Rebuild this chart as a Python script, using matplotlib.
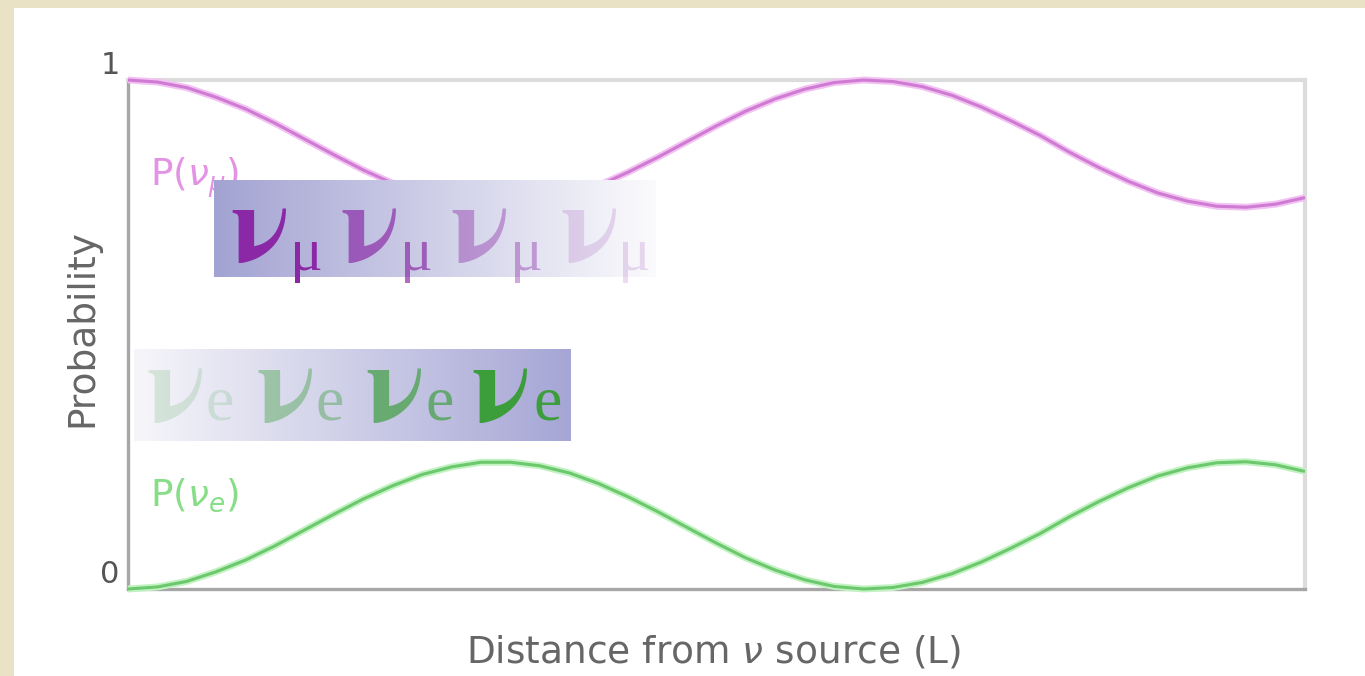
import numpy as np
import matplotlib
matplotlib.use("Agg")
import matplotlib.pyplot as plt
from matplotlib.patches import Rectangle
from matplotlib.colors import to_rgb

# distance along the beam (arbitrary units) and the two flavour probabilities
distance = [0.000, 0.025, 0.050, 0.075, 0.100, 0.125, 0.150, 0.175, 0.200, 0.225,
            0.250, 0.275, 0.300, 0.325, 0.350, 0.375, 0.400, 0.425, 0.450, 0.475,
            0.500, 0.525, 0.550, 0.575, 0.600, 0.625, 0.650, 0.675, 0.700, 0.725,
            0.750, 0.775, 0.800, 0.825, 0.850, 0.875, 0.900, 0.925, 0.950, 0.975,
            1.000]
p_e = [0.000, 0.004, 0.015, 0.034, 0.057, 0.085, 0.116, 0.147, 0.177, 0.203,
       0.225, 0.240, 0.249, 0.249, 0.242, 0.228, 0.207, 0.181, 0.152, 0.121,
       0.090, 0.061, 0.037, 0.018, 0.005, 0.000, 0.003, 0.013, 0.030, 0.053,
       0.080, 0.109, 0.142, 0.172, 0.199, 0.222, 0.238, 0.248, 0.250, 0.244,
       0.231]
p_mu = [1.000, 0.996, 0.985, 0.966, 0.943, 0.915, 0.884, 0.853, 0.823, 0.797,
        0.775, 0.760, 0.751, 0.751, 0.758, 0.772, 0.793, 0.819, 0.848, 0.879,
        0.910, 0.939, 0.963, 0.982, 0.995, 1.000, 0.997, 0.987, 0.970, 0.947,
        0.920, 0.891, 0.858, 0.828, 0.801, 0.778, 0.762, 0.752, 0.750, 0.756,
        0.769]
y_ticks = [0, 1]
y_tick_labels = ["0", "1"]

# fading flavour strips: opacity of each nu symbol, left to right
mu_alpha = [1.0, 0.68, 0.40, 0.16]
e_alpha = [0.16, 0.40, 0.68, 1.0]

W, H = 1365, 676
fig = plt.figure(figsize=(W / 100, H / 100), dpi=100, facecolor="#e9e2c5")

# white slide area, behind the axes
fig.patches.append(Rectangle((14 / W, 0), 1 - 14 / W, (H - 8) / H,
                             transform=fig.transFigure, facecolor="white",
                             edgecolor="none", zorder=-1))

ax = fig.add_axes([128 / W, 1 - 589 / H, (1305 - 128) / W, (589 - 80) / H])
ax.set_facecolor("white")

ax.plot(distance, p_mu, color="#f2c2f2", lw=5.0, solid_capstyle="butt", clip_on=False, zorder=3)
ax.plot(distance, p_mu, color="#cf7ad3", lw=2.2, solid_capstyle="butt", clip_on=False, zorder=4)
ax.plot(distance, p_e, color="#c2f2c2", lw=5.0, solid_capstyle="butt", clip_on=False, zorder=3)
ax.plot(distance, p_e, color="#6cc86c", lw=2.2, solid_capstyle="butt", clip_on=False, zorder=4)

ax.set_xlim(0, 1)
ax.set_ylim(0, 1)
ax.set_xticks([])
ax.set_yticks(y_ticks, y_tick_labels, fontsize=22, color="#555555")
ax.tick_params(axis="y", length=0, pad=6)
for lbl in ax.get_yticklabels():
    lbl.set_verticalalignment("bottom")

for side in ["left", "bottom"]:
    ax.spines[side].set_color("#a6a6a6")
    ax.spines[side].set_linewidth(2.4)
for side in ["top", "right"]:
    ax.spines[side].set_color("#dcdcdc")
    ax.spines[side].set_linewidth(3.0)

# overlay in pixel coordinates for labels and the flavour strips
ov = fig.add_axes([0, 0, 1, 1], zorder=5)
ov.set_xlim(0, W)
ov.set_ylim(H, 0)
ov.set_axis_off()
ov.patch.set_alpha(0)

label_kw = dict(fontsize=27, color="#666666", family="DejaVu Sans")
ov.text(713, 652, r"Distance from $\nu$ source (L)", ha="center", va="center", **label_kw)
ov.text(82, 328, "Probability", rotation=90, ha="center", va="center", **label_kw)

ov.text(150, 186, r"P($\nu_\mu$)", fontsize=27, color="#e393e3", ha="left", va="baseline", zorder=1)
ov.text(150, 506, r"P($\nu_e$)", fontsize=27, color="#88dd88", ha="left", va="baseline", zorder=1)


def gradient_box(x0, y0, x1, y1, left, right):
    c0 = np.array(to_rgb(left))
    c1 = np.array(to_rgb(right))
    t = np.linspace(0, 1, 256)[None, :, None]
    img = c0 + (c1 - c0) * t
    ov.imshow(img, extent=(x0, x1, y1, y0), aspect="auto", interpolation="bilinear", zorder=2)


gradient_box(214, 180, 656, 277, "#a3a3d3", "#fbfbfd")
gradient_box(134, 349, 571, 441, "#f6f6fa", "#a6a6d6")

nu_font = dict(family="STIXGeneral", weight="bold", fontsize=80)
serif = "Liberation Serif"
mu_color = "#8a28a6"
for x_nu, x_sub, a in zip([230, 340, 450, 560], [290, 400, 510, 618], mu_alpha):
    ov.text(x_nu, 261, "ν", color=mu_color, alpha=a, ha="left", va="baseline",
            zorder=3, **nu_font)
    ov.text(x_sub, 270, "μ", fontsize=44, family=serif, color=mu_color, alpha=a,
            ha="left", va="baseline", zorder=3)

e_color = "#3b9e3b"
for x_nu, x_sub, a in zip([146, 256, 365, 471], [206, 315, 425, 533], e_alpha):
    ov.text(x_nu, 421, "ν", color=e_color, alpha=a, ha="left", va="baseline",
            zorder=3, **nu_font)
    ov.text(x_sub, 420, "e", fontsize=46, family=serif, color=e_color, alpha=a,
            ha="left", va="baseline", zorder=3)

fig.savefig("out.png", dpi=100, facecolor=fig.get_facecolor())
